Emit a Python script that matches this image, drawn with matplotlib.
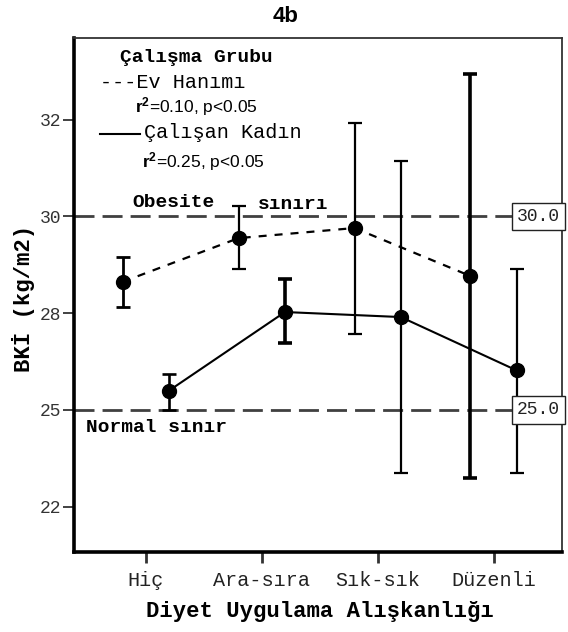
import matplotlib
matplotlib.use("Agg")
import matplotlib.pyplot as plt
from matplotlib.lines import Line2D
from matplotlib.ticker import FixedLocator, FuncFormatter

# BMI means with confidence limits by dieting habit, for two work groups
categories = ["Hiç", "Ara-sıra", "Sık-sık", "Düzenli"]
ev_mean = [28.31, 29.44, 29.70, 28.46]
ev_low = [27.66, 28.64, 26.96, 23.24]
ev_high = [28.95, 30.27, 32.42, 33.68]
cal_mean = [25.50, 27.53, 27.40, 26.02]
cal_low = [25.01, 26.72, 23.38, 23.38]
cal_high = [25.94, 28.39, 31.43, 28.64]
y_ticks = [22.5, 25.0, 27.5, 30.0, 32.5]
ref_levels = [30.0, 25.0]
ref_labels = ["30.0", "25.0"]

# line widths of the individual error bars
ev_bar_lw = [2.0, 1.6, 1.6, 2.6]
cal_bar_lw = [1.9, 2.6, 1.6, 1.6]

W, H = 568, 632
MONO = "Liberation Mono"
plt.rcParams["mathtext.fontset"] = "custom"
plt.rcParams["mathtext.bf"] = "Liberation Sans:bold"
plt.rcParams["mathtext.rm"] = "Liberation Sans"

fig = plt.figure(figsize=(W / 100, H / 100), dpi=100)
ax = fig.add_axes([74 / W, (H - 552) / H, (562 - 74) / W, (552 - 38) / H])

xs = list(range(len(categories)))
off = 0.2
x_ev = [x - off for x in xs]
x_cal = [x + off for x in xs]

# reference lines
for lvl, lab in zip(ref_levels, ref_labels):
    ax.axhline(lvl, color="#404040", lw=2.0, dashes=(7.2, 2.9), zorder=1)
    ax.text(0.996, lvl, lab, transform=ax.get_yaxis_transform(), ha="right",
            va="center", fontsize=13, family=MONO, color="#222222", zorder=5,
            bbox=dict(boxstyle="square,pad=0.3", fc="white", ec="#222222", lw=1.0))

# error bars
CAP = 4.8
for x, m, lo, hi, w in zip(x_ev, ev_mean, ev_low, ev_high, ev_bar_lw):
    ax.errorbar([x], [m], yerr=[[m - lo], [hi - m]], fmt="none", ecolor="black",
                elinewidth=w, capsize=CAP, capthick=w, zorder=3)
for x, m, lo, hi, w in zip(x_cal, cal_mean, cal_low, cal_high, cal_bar_lw):
    ax.errorbar([x], [m], yerr=[[m - lo], [hi - m]], fmt="none", ecolor="black",
                elinewidth=w, capsize=CAP, capthick=w, zorder=3)

# mean lines and markers
ax.plot(x_ev, ev_mean, color="black", lw=1.6, linestyle=(0, (3.6, 3.6)), zorder=2)
ax.plot(x_cal, cal_mean, color="black", lw=1.5, zorder=2)
ax.plot(x_ev, ev_mean, "o", color="black", ms=10, zorder=4)
ax.plot(x_cal, cal_mean, "o", color="black", ms=10, zorder=4)

ax.set_xlim(-0.62, 3.59)
ax.set_ylim(21.33, 34.61)
ax.set_xticks(xs)
ax.set_xticklabels(categories, family=MONO, fontsize=14.5, color="#222222")
ax.yaxis.set_major_locator(FixedLocator(y_ticks))
ax.yaxis.set_major_formatter(FuncFormatter(lambda v, p: f"{round(v):d}"))
for t in ax.get_yticklabels():
    t.set_family(MONO)
    t.set_fontsize(13)
    t.set_color("#333333")
ax.tick_params(axis="y", length=8, width=1.3, pad=1, color="#333333")
ax.tick_params(axis="x", length=8, width=2.0, pad=6, color="#333333")

for side in ("left", "bottom"):
    ax.spines[side].set_linewidth(2.6)
for side in ("top", "right"):
    ax.spines[side].set_linewidth(1.3)
    ax.spines[side].set_color("#333333")

def px(x, y):
    return x / W, 1 - y / H

# title and axis labels
fig.text(*px(286, 17), "4b", ha="center", va="center", fontsize=16,
         family="Liberation Sans", weight="bold")
fig.text(*px(24, 298), "BKİ (kg/m2)", rotation=90, ha="center", va="center",
         fontsize=16, family=MONO, weight="bold")
fig.text(*px(320, 612), "Diyet Uygulama Alışkanlığı", ha="center", va="center",
         fontsize=16, family=MONO, weight="bold")

# in-plot annotations
fig.text(*px(132, 203), "Obesite", ha="left", va="center", fontsize=14,
         family=MONO, weight="bold")
fig.text(*px(258, 205), "sınırı", ha="left", va="center", fontsize=14,
         family=MONO, weight="bold")
fig.text(*px(86, 427), "Normal sınır", ha="left", va="center", fontsize=14,
         family=MONO, weight="bold")

# group key
fig.text(*px(120, 57), "Çalışma Grubu", ha="left", va="center", fontsize=14,
         family=MONO, weight="bold")
fig.text(*px(100, 82), "---Ev Hanımı", ha="left", va="center", fontsize=14.5,
         family=MONO)
fig.text(*px(135, 107), r"$\mathbf{r^2}$=0.10, p<0.05", ha="left", va="center",
         fontsize=12.5, family="Liberation Sans")
fig.add_artist(Line2D([100 / W, 140 / W], [1 - 134 / H, 1 - 134 / H],
                      color="black", lw=1.5))
fig.text(*px(144, 133), "Çalışan Kadın", ha="left", va="center", fontsize=14.5,
         family=MONO)
fig.text(*px(142, 162), r"$\mathbf{r^2}$=0.25, p<0.05", ha="left", va="center",
         fontsize=12.5, family="Liberation Sans")

fig.savefig("out.png", dpi=100)
